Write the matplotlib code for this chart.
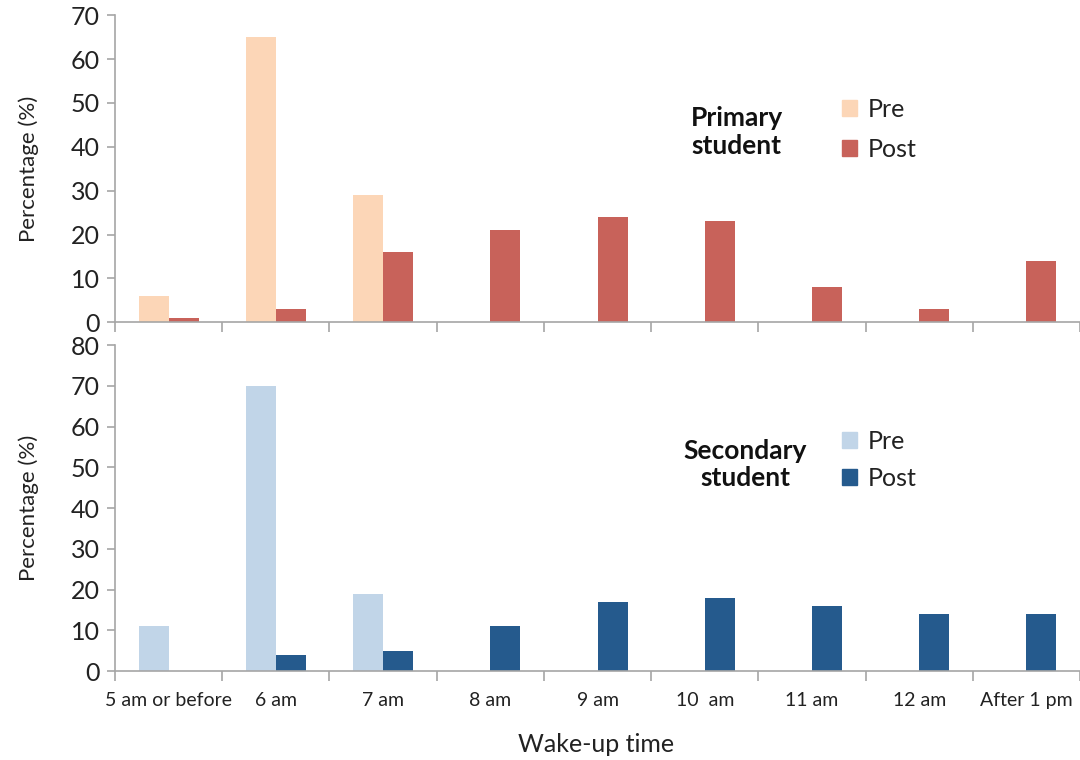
import numpy as np
import matplotlib
matplotlib.use("Agg")
import matplotlib.pyplot as plt
from matplotlib.patches import Patch

plt.rcParams['font.family'] = ['Lato', 'DejaVu Sans']

times = ["5 am or before", "6 am", "7 am", "8 am", "9 am", "10  am",
         "11 am", "12 am", "After 1 pm"]
primary_pre = [6, 65, 29, 0, 0, 0, 0, 0, 0]
primary_post = [1, 3, 16, 21, 24, 23, 8, 3, 14]
secondary_pre = [11, 70, 19, 0, 0, 0, 0, 0, 0]
secondary_post = [0, 4, 5, 11, 17, 18, 16, 14, 14]

grey = "#a6a6a6"
txt = "#222222"
x = np.arange(len(times))
w = 0.28

fig = plt.figure(figsize=(10.8, 7.6), dpi=100)
ax1 = fig.add_axes([0.1065, 0.576, 0.8935, 0.404])
ax2 = fig.add_axes([0.1065, 0.117, 0.8935, 0.429])


def style(ax, ymax, step):
    ax.set_xlim(-0.5, 8.5)
    ax.set_ylim(0, ymax)
    ax.set_yticks(np.arange(0, ymax + 1, step))
    for s in ["top", "right"]:
        ax.spines[s].set_visible(False)
    for s in ["left", "bottom"]:
        ax.spines[s].set_color(grey)
        ax.spines[s].set_linewidth(1.2)
    ax.set_xticks(np.arange(len(times) + 1) - 0.5)
    ax.set_xticklabels([])
    ax.tick_params(axis="x", which="major", length=7, color=grey, width=1.2)
    ax.tick_params(axis="y", length=6, color=grey, width=1.2,
                   labelsize=18, labelcolor=txt, pad=5)
    ax.set_ylabel("Percentage (%)", fontsize=16, color=txt)
    ax.yaxis.set_label_coords(-0.079, 0.5)


def legend_block(ax, title, tx, ty, ls, c_pre, c_post, ly, spacing):
    fig.text(tx, ty, title, ha="center", va="center", fontsize=19,
             fontweight="bold", linespacing=ls, color="#111111")
    ax.legend(handles=[Patch(color=c_pre, label="Pre"),
                       Patch(color=c_post, label="Post")],
              loc="center left", bbox_to_anchor=(0.768, ly),
              bbox_transform=fig.transFigure, frameon=False, fontsize=18,
              handlelength=0.6, handleheight=0.6, handletextpad=0.45,
              labelspacing=spacing, borderpad=0, labelcolor=txt)


# Primary
ax1.bar(x - w / 2, primary_pre, w, color="#fcd6b7")
ax1.bar(x + w / 2, primary_post, w, color="#c8625a")
style(ax1, 70, 10)
legend_block(ax1, "Primary\nstudent", 0.682, 0.826, 1.2,
             "#fcd6b7", "#c8625a", 0.830, 0.68)

# Secondary
ax2.bar(x - w / 2, secondary_pre, w, color="#c1d5e8")
ax2.bar(x + w / 2, secondary_post, w, color="#255a8d")
style(ax2, 80, 10)
ax2.set_xticks(x, minor=True)
ax2.set_xticklabels(times, minor=True)
ax2.tick_params(axis="x", which="minor", length=0, labelsize=14,
                labelcolor=txt, pad=15)
fig.text(0.552, 0.021, "Wake-up time", ha="center", va="center",
         fontsize=18, color=txt)
legend_block(ax2, "Secondary\nstudent", 0.690, 0.389, 1.12,
             "#c1d5e8", "#255a8d", 0.395, 0.58)

fig.savefig("out.png", dpi=100)
